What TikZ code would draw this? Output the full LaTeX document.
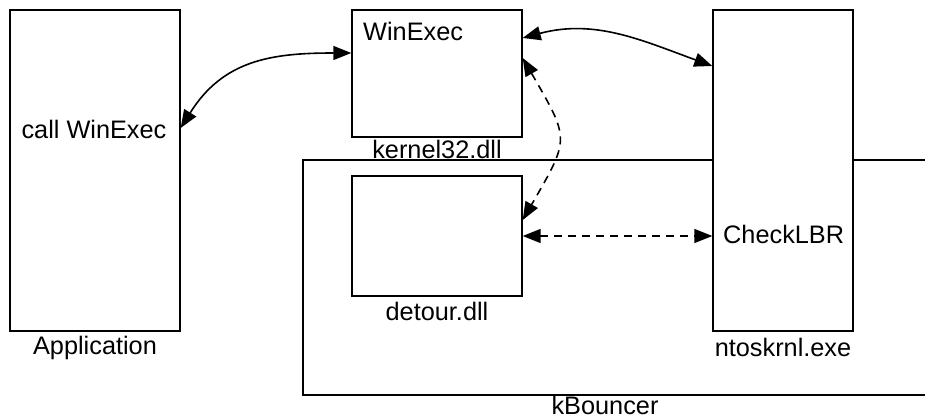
\documentclass[tikz,border=0pt]{standalone}
\usepackage{fontspec}
\setmainfont{Liberation Sans}
\usetikzlibrary{arrows.meta,positioning}
\tikzset{
  box/.style={draw, fill=white, line width=1.4pt, inner sep=0pt},
  lbl/.style={font=\fontsize{25.3}{30}\selectfont, inner sep=0pt},
  link/.style={line width=1.6pt, {Triangle[length=18pt,width=14pt]}-{Triangle[length=18pt,width=14pt]}},
  dlink/.style={link, dash pattern=on 8pt off 6pt},
}
\begin{document}
\begin{tikzpicture}[x=1pt,y=1pt]
\useasboundingbox (0,0) rectangle (925,-419);
% kBouncer container, open to the right
\path (629,-277.5) node[box, minimum width=652pt, minimum height=235pt] (kbouncer){};
\path (605,-405.5) node[lbl] (kbouncerlbl){kBouncer};

% application
\path (95,-170.5) node[box, minimum width=170pt, minimum height=321pt] (app){};
\path (94,-129) node[lbl] (call){call WinExec};
\path (95,-348) node[lbl] (applbl){Application};

% kernel32
\path (437,-73.5) node[box, minimum width=170pt, minimum height=127pt] (kernel){};
\path (363,-31) node[lbl, anchor=west] (winexec){WinExec};
\path (437,-149) node[lbl] (kernellbl){kernel32.dll};

% detour
\path (437,-236) node[box, minimum width=170pt, minimum height=120pt] (detour){};
\path (437,-311) node[lbl] (detourlbl){detour.dll};

% ntoskrnl
\path (783,-170.5) node[box, minimum width=140pt, minimum height=321pt] (ntos){};
\path (723,-234) node[lbl, anchor=west] (check){CheckLBR};
\path (783,-347) node[lbl] (ntoslbl){ntoskrnl.exe};

% calls
\draw[link] ([yshift=42.5pt]app.east) to[out=58, in=180, looseness=1.1] ([yshift=20.5pt]kernel.west);
\draw[link] ([yshift=35.5pt]kernel.east) to[out=15, in=160] ([yshift=104.5pt]ntos.west);
\draw[dlink] ([yshift=15.5pt]kernel.east) to[out=-60, in=60, looseness=1.5] ([yshift=16pt]detour.east);
\draw[dlink] (detour.east) -- (detour.east -| ntos.west);
\end{tikzpicture}
\end{document}
